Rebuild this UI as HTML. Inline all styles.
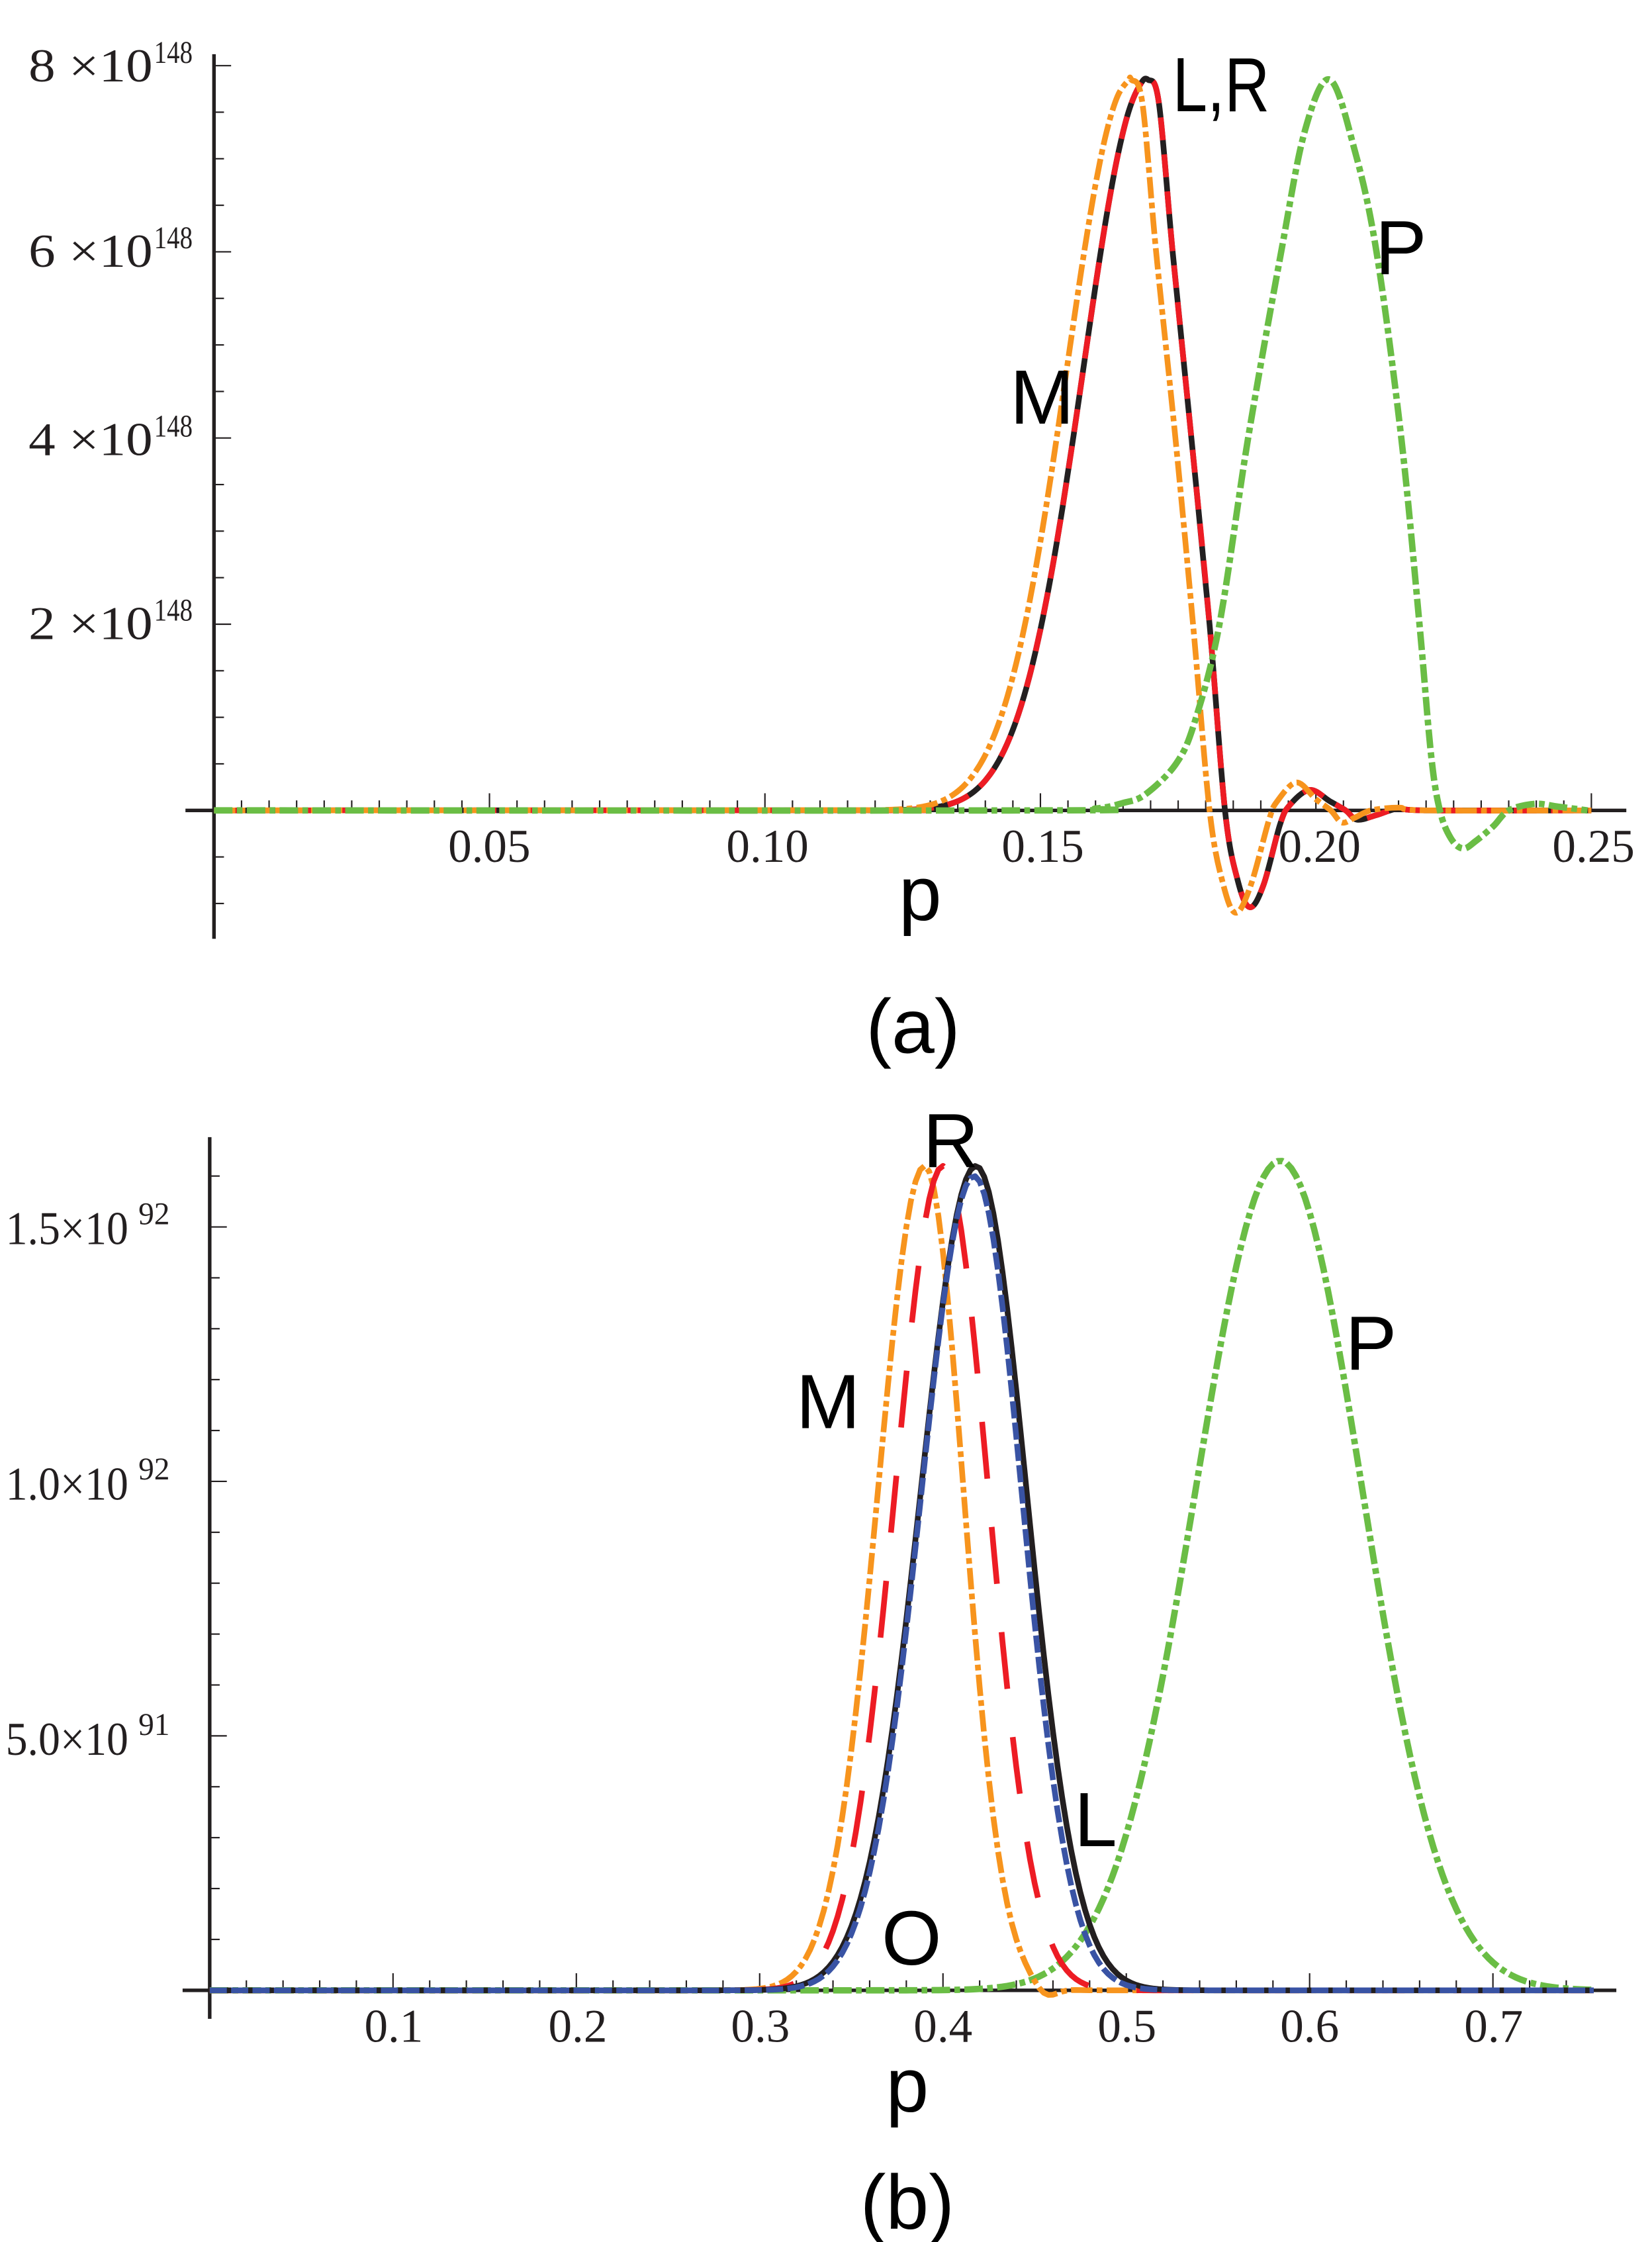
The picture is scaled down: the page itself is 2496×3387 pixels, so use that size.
<!DOCTYPE html>
<html><head><meta charset="utf-8">
<style>
html,body{margin:0;padding:0;background:#fff;}
svg{display:block;}
.tk{font-family:"Liberation Serif",serif;font-size:33px;fill:#231f20;}
.ex{font-family:"Liberation Serif",serif;font-size:22px;fill:#231f20;}
.lb{font-family:"Liberation Sans",sans-serif;font-size:54px;fill:#000;}
</style></head>
<body>
<svg id="s" width="2496" height="3387" viewBox="0 0 1158 1571.4" preserveAspectRatio="none" xmlns="http://www.w3.org/2000/svg">
<g id="axA" stroke="#231f20" fill="none"></g>
<g id="cvA" fill="none" stroke-linejoin="round"></g>
<g id="axB" stroke="#231f20" fill="none"></g>
<g id="cvB" fill="none" stroke-linejoin="round"></g>

<text class="tk" x="20" y="57" textLength="87" lengthAdjust="spacingAndGlyphs">8 ×10</text><text class="ex" x="108" y="44" textLength="27" lengthAdjust="spacingAndGlyphs">148</text>
<text class="tk" x="20" y="187" textLength="87" lengthAdjust="spacingAndGlyphs">6 ×10</text><text class="ex" x="108" y="174" textLength="27" lengthAdjust="spacingAndGlyphs">148</text>
<text class="tk" x="20" y="319" textLength="87" lengthAdjust="spacingAndGlyphs">4 ×10</text><text class="ex" x="108" y="306" textLength="27" lengthAdjust="spacingAndGlyphs">148</text>
<text class="tk" x="20" y="448" textLength="87" lengthAdjust="spacingAndGlyphs">2 ×10</text><text class="ex" x="108" y="435" textLength="27" lengthAdjust="spacingAndGlyphs">148</text>
<text class="tk" x="343" y="604" text-anchor="middle">0.05</text>
<text class="tk" x="538" y="604" text-anchor="middle">0.10</text>
<text class="tk" x="731" y="604" text-anchor="middle">0.15</text>
<text class="tk" x="925" y="604" text-anchor="middle">0.20</text>
<text class="tk" x="1117" y="604" text-anchor="middle">0.25</text>
<text class="lb" x="822" y="78" textLength="68" lengthAdjust="spacingAndGlyphs">L,R</text>
<text class="lb" x="964" y="192">P</text>
<text class="lb" x="708" y="297">M</text>
<text class="lb" x="630" y="645">p</text>
<text class="lb" x="640" y="738" text-anchor="middle">(a)</text>

<text class="tk" x="4" y="872" textLength="86" lengthAdjust="spacingAndGlyphs">1.5×10</text><text class="ex" x="97" y="858">92</text>
<text class="tk" x="4" y="1051" textLength="86" lengthAdjust="spacingAndGlyphs">1.0×10</text><text class="ex" x="97" y="1037">92</text>
<text class="tk" x="4" y="1230" textLength="86" lengthAdjust="spacingAndGlyphs">5.0×10</text><text class="ex" x="97" y="1216">91</text>
<text class="tk" x="276" y="1431" text-anchor="middle">0.1</text>
<text class="tk" x="405" y="1431" text-anchor="middle">0.2</text>
<text class="tk" x="533" y="1431" text-anchor="middle">0.3</text>
<text class="tk" x="661" y="1431" text-anchor="middle">0.4</text>
<text class="tk" x="790" y="1431" text-anchor="middle">0.5</text>
<text class="tk" x="918" y="1431" text-anchor="middle">0.6</text>
<text class="tk" x="1047" y="1431" text-anchor="middle">0.7</text>
<text class="lb" x="647" y="818">R</text>
<text class="lb" x="558" y="1001">M</text>
<text class="lb" x="943" y="960">P</text>
<text class="lb" x="753" y="1294">L</text>
<text class="lb" x="618" y="1377">O</text>
<text class="lb" x="636" y="1480" text-anchor="middle">p</text>
<text class="lb" x="636" y="1562" text-anchor="middle">(b)</text>
</svg>
<script>
var NS="http://www.w3.org/2000/svg";
function el(g,t,a){var e=document.createElementNS(NS,t);for(var k in a)e.setAttribute(k,a[k]);document.getElementById(g).appendChild(e);return e;}
function line(g,x1,y1,x2,y2,w){el(g,'line',{x1:x1,y1:y1,x2:x2,y2:y2,'stroke-width':w});}
var AX=function(p){return 150+3862*p;}, AY=function(v){return 568-65.25*v;};
line('axA',150,38,150,658,2.5);
line('axA',130,568,1140,568,2.5);
for(var i=1;i<=50;i++){var p=i*0.005;var mj=(i%10==0);line('axA',AX(p),568,AX(p),568-(mj?12:7),1);}
for(var i=-2;i<=16;i++){if(i==0)continue;var v=i*0.5;var mj=(i%4==0);line('axA',150,AY(v),150+(mj?12:7),AY(v),1);}
var BX=function(p){return 147+1285*p;}, BY=function(v){return 1395-356.7*v;};
line('axB',147,797,147,1415,2.5);
line('axB',128,1395,1133,1395,2.5);
for(var i=1;i<=37;i++){var p=i*0.02;var mj=(i%5==0);line('axB',BX(p),1395,BX(p),1395-(mj?12:7),1);}
for(var i=1;i<=16;i++){var v=i*0.1;var mj=(i%5==0);line('axB',147,BY(v),147+(mj?12:7),BY(v),1);}

function cr(pts){
  var d='M'+pts[0][0].toFixed(2)+' '+pts[0][1].toFixed(2);
  for(var i=0;i<pts.length-1;i++){
    var p0=pts[i-1]||pts[i],p1=pts[i],p2=pts[i+1],p3=pts[i+2]||p2;
    var c1=[p1[0]+(p2[0]-p0[0])/6,p1[1]+(p2[1]-p0[1])/6];
    var c2=[p2[0]-(p3[0]-p1[0])/6,p2[1]-(p3[1]-p1[1])/6];
    d+='C'+c1[0].toFixed(2)+' '+c1[1].toFixed(2)+' '+c2[0].toFixed(2)+' '+c2[1].toFixed(2)+' '+p2[0].toFixed(2)+' '+p2[1].toFixed(2);
  }
  return d;
}
function gaussL(p0,h,w,from){var a=[[0,0]];for(var p=from;p<p0;p+=0.002){a.push([p,h*Math.exp(-Math.pow((p-p0)/w,2))]);}return a;}
function toA(a){return a.map(function(q){return [AX(q[0]),AY(q[1])];});}
var Lr=gaussL(0.1695,7.85,0.0165,0.12).concat([[0.1695,7.85],[0.1715,7.6],[0.174,6.0],[0.1774,4.0],[0.1807,2.0],[0.1835,0],[0.1858,-0.75],[0.188,-1.04],[0.1905,-0.8],[0.1935,-0.15],[0.1953,0.06],[0.1989,0.22],[0.2025,0.1],[0.2054,0],[0.2075,-0.1],[0.211,-0.05],[0.215,0.02],[0.22,0],[0.25,0]]);
var Mr=gaussL(0.1665,7.85,0.0165,0.12).concat([[0.1665,7.85],[0.1685,7.6],[0.171,6.0],[0.1745,4.0],[0.1777,2.0],[0.1807,0],[0.1832,-0.8],[0.1855,-1.1],[0.1882,-0.8],[0.1915,-0.1],[0.193,0.1],[0.1965,0.3],[0.2,0.12],[0.2027,0],[0.2047,-0.13],[0.207,-0.08],[0.21,0],[0.215,0.03],[0.22,0],[0.25,0]]);
var Pg=[[0,0],[0.15,0],[0.16,0.02],[0.165,0.08],[0.169,0.17],[0.1746,0.5],[0.178,0.95],[0.1825,2.0],[0.1877,4.0],[0.1937,6.0],[0.198,7.3],[0.2025,7.85],[0.207,7.1],[0.211,6.0],[0.2155,4.0],[0.2188,2.0],[0.2209,0.6],[0.2225,0],[0.2245,-0.3],[0.2267,-0.41],[0.229,-0.33],[0.2322,-0.17],[0.235,0],[0.2397,0.07],[0.244,0.04],[0.2493,0]];
function path(g,d,col,w,dash){el(g,'path',{d:d,stroke:col,'stroke-width':w,'stroke-dasharray':dash||'none'});}
var dL=cr(toA(Lr)), dM=cr(toA(Mr)), dP=cr(toA(Pg));
path('cvA',dL,'#231f20',4);
path('cvA',dL,'#ed1c24',4,'16 10');
path('cvA',dM,'#f7941d',4,'15 3 4 3');
path('cvA',dP,'#6abd45',4.5,'13 3 4 3');

function gcurve(p0,h,wl,wr,extra){var a=[];for(var p=0;p<=0.755;p+=0.0025){var w=p<p0?wl:wr;var v=h*Math.exp(-Math.pow((p-p0)/w,2));if(extra)v+=extra(p);a.push([BX(p),BY(v)]);}
  var d='M'+a[0][0].toFixed(2)+' '+a[0][1].toFixed(2);for(var i=1;i<a.length;i++)d+='L'+a[i][0].toFixed(2)+' '+a[i][1].toFixed(2);return d;}
path('cvB',gcurve(0.584,1.63,0.065,0.063),'#6abd45',4.5,'13 3 4 3');
path('cvB',gcurve(0.390,1.62,0.036,0.030,function(p){return -0.02*Math.exp(-Math.pow((p-0.456)/0.008,2));}),'#f7941d',4,'15 3 4 3');
path('cvB',gcurve(0.400,1.62,0.037,0.035),'#ed1c24',4,'40 34');
path('cvB',gcurve(0.418,1.62,0.0425,0.039),'#231f20',4);
path('cvB',gcurve(0.417,1.60,0.041,0.037),'#3953a4',4,'12 3');
</script>
</body></html>
